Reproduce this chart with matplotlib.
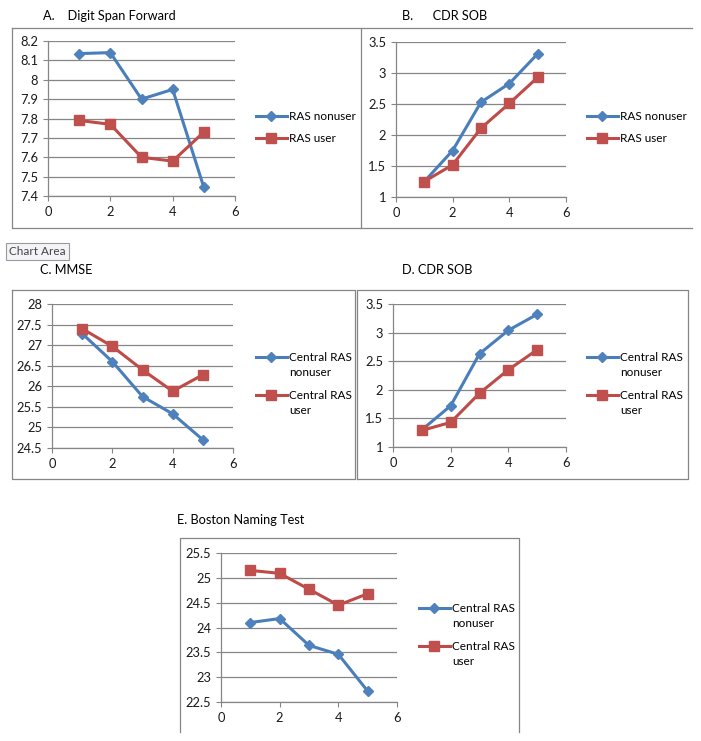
import numpy as np
import matplotlib
matplotlib.use("Agg")
import matplotlib.pyplot as plt
from matplotlib.lines import Line2D
from matplotlib.legend_handler import HandlerLine2D

# time points (x) shared by every panel
visits = [1, 2, 3, 4, 5]

# A. Digit Span Forward
digit_nonuser = [8.135, 8.14, 7.90, 7.95, 7.445]
digit_user = [7.79, 7.77, 7.60, 7.58, 7.73]

# B. CDR SOB (RAS)
cdr_b_nonuser = [1.25, 1.75, 2.53, 2.83, 3.31]
cdr_b_user = [1.25, 1.52, 2.11, 2.51, 2.93]

# C. MMSE
mmse_nonuser = [27.28, 26.60, 25.75, 25.33, 24.70]
mmse_user = [27.40, 26.97, 26.40, 25.88, 26.28]

# D. CDR SOB (central RAS)
cdr_d_nonuser = [1.30, 1.72, 2.63, 3.04, 3.32]
cdr_d_user = [1.29, 1.43, 1.94, 2.35, 2.70]

# E. Boston Naming Test
bnt_nonuser = [24.10, 24.18, 23.64, 23.46, 22.72]
bnt_user = [25.15, 25.09, 24.77, 24.45, 24.68]

plt.rcParams['font.family'] = ['Lato', 'DejaVu Sans']

W, H = 701, 741
BLUE_LINE, BLUE_MARK = '#4A7EBB', '#4F81BD'
RED_LINE, RED_MARK = '#BE4B48', '#C0504D'
GRAY = '#868686'

fig = plt.figure(figsize=(W / 100, H / 100), dpi=100)
fig.patch.set_facecolor('white')


def rect(x0, y0, x1, y1):
    return [x0 / W, 1 - y1 / H, (x1 - x0) / W, (y1 - y0) / H]


def fx(x):
    return x / W


def fy(y):
    return 1 - y / H


class FirstLineHandler(HandlerLine2D):
    # Excel puts the legend key next to the first line of a wrapped label
    def __init__(self, shift=0.0, **kw):
        super().__init__(**kw)
        self.shift = shift

    def create_artists(self, legend, orig_handle, xdescent, ydescent,
                       width, height, fontsize, trans):
        return super().create_artists(legend, orig_handle, xdescent,
                                      ydescent - 2 * self.shift * fontsize,
                                      width, height, fontsize, trans)


def panel(pos, ylim, yticks, nonuser, user, labels, leg_xy, title, title_xy,
          wrapped=False):
    ax = fig.add_axes(rect(*pos))
    ax.plot(visits, nonuser, color=BLUE_LINE, lw=2.2, marker='D', ms=5.5,
            mfc=BLUE_MARK, mec=BLUE_MARK, label=labels[0])
    ax.plot(visits, user, color=RED_LINE, lw=2.2, marker='s', ms=7,
            mfc=RED_MARK, mec=RED_MARK, label=labels[1])
    ax.set_xlim(0, 6)
    ax.set_ylim(*ylim)
    ax.set_xticks([0, 2, 4, 6])
    ax.set_yticks(yticks)
    ax.set_yticklabels([f'{t:g}' for t in yticks])
    ax.grid(axis='y', color=GRAY, lw=0.9)
    ax.set_axisbelow(True)
    for s in ['top', 'right']:
        ax.spines[s].set_visible(False)
    for s in ['left', 'bottom']:
        ax.spines[s].set_color(GRAY)
        ax.spines[s].set_linewidth(0.9)
    ax.tick_params(direction='out', length=3.5, width=0.8, color=GRAY,
                   labelsize=9.3, labelcolor='#1a1a1a', pad=3.5)
    shift = 0.72 if wrapped else 0.0
    hm = {Line2D: FirstLineHandler(shift=shift)}
    leg = ax.legend(loc='upper left',
                    bbox_to_anchor=(fx(leg_xy[0]), fy(leg_xy[1])),
                    bbox_transform=fig.transFigure, frameon=False, fontsize=8.5,
                    handlelength=2.6, handletextpad=0.2, borderpad=0,
                    borderaxespad=0, labelspacing=1.0 if wrapped else 0.95,
                    handler_map=hm)
    if wrapped:
        for t in leg.get_texts():
            t.set_linespacing(1.45)
    fig.text(fx(title_xy[0]), fy(title_xy[1]), title, fontsize=9.2,
             va='center', ha='left', color='black')
    return ax


panel((48, 41, 235, 196), (7.4, 8.2), np.arange(7.4, 8.21, 0.1).round(1),
      digit_nonuser, digit_user, ['RAS nonuser', 'RAS user'], (256, 111),
      'A.    Digit Span Forward', (43, 16))
panel((396, 42, 566, 197), (1, 3.5), [1, 1.5, 2, 2.5, 3, 3.5],
      cdr_b_nonuser, cdr_b_user, ['RAS nonuser', 'RAS user'], (587, 111),
      'B.      CDR SOB', (402, 16))
panel((52, 304, 233, 448), (24.5, 28), [24.5, 25, 25.5, 26, 26.5, 27, 27.5, 28],
      mmse_nonuser, mmse_user, ['Central RAS\nnonuser', 'Central RAS\nuser'],
      (256, 352), 'C. MMSE', (40, 270), wrapped=True)
panel((393, 304, 566, 447), (1, 3.5), [1, 1.5, 2, 2.5, 3, 3.5],
      cdr_d_nonuser, cdr_d_user, ['Central RAS\nnonuser', 'Central RAS\nuser'],
      (587, 352), 'D. CDR SOB', (402, 270), wrapped=True)
panel((221, 553, 397, 702), (22.5, 25.5), [22.5, 23, 23.5, 24, 24.5, 25, 25.5],
      bnt_nonuser, bnt_user, ['Central RAS\nnonuser', 'Central RAS\nuser'],
      (419, 603), 'E. Boston Naming Test', (177, 520), wrapped=True)

# chart-area borders, as they were cropped out of the spreadsheet
borders = [
    [(12, 28), (361, 28), (361, 228), (12, 228), (12, 28)],
    [(361, 28), (692, 28)],
    [(361, 228), (692, 228)],
    [(12, 290), (355, 290), (355, 479), (12, 479), (12, 290)],
    [(357, 479), (357, 290), (688, 290), (688, 479), (357, 479)],
    [(180, 732), (180, 538), (519, 538), (519, 732)],
]
for pts in borders:
    xs = [fx(p[0]) for p in pts]
    ys = [fy(p[1]) for p in pts]
    fig.add_artist(Line2D(xs, ys, color=GRAY, lw=0.9))

# the "Chart Area" tooltip left in the screenshot
fig.text(fx(9), fy(251.5), 'Chart Area', fontsize=8.5, color='#444444',
         va='center', ha='left',
         bbox=dict(boxstyle='square,pad=0.25', fc='#f4f4f8', ec='#9a9a9a',
                   lw=0.8))

fig.savefig('out.png', dpi=100, facecolor='white')
